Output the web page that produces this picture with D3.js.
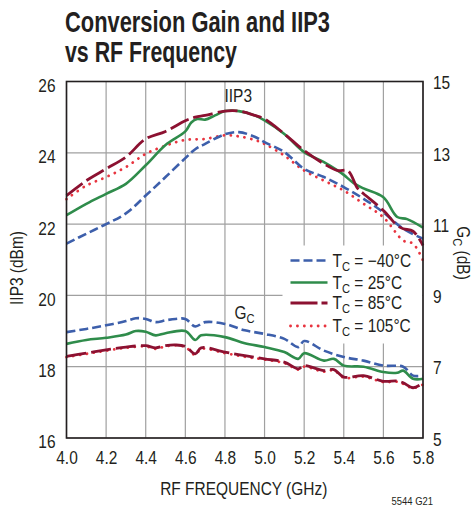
<!DOCTYPE html>
<html>
<head>
<meta charset="utf-8">
<script src="https://cdn.jsdelivr.net/npm/d3@7"></script>
<style>
  body { margin: 0; background: #fff; }
  svg text { font-family: "Liberation Sans", Arial, sans-serif; fill: #231f20; }
  .title { font-size: 30px; font-weight: bold; }
  .tick-label { font-size: 18px; }
  .axis-label { font-size: 18px; }
  .grid line { stroke: #a0a0a0; stroke-width: 1.2; }
</style>
</head>
<body>
<svg width="474" height="507"></svg>
<script>
(function (d3) {
  'use strict';

  const xTicks = [4.0, 4.2, 4.4, 4.6, 4.8, 5.0, 5.2, 5.4, 5.6, 5.8];
  const leftTicks = [16, 18, 20, 22, 24, 26];
  const rightTicks = [5, 7, 9, 11, 13, 15];

  // IIP3 (dBm), [freq GHz, value]
  const iip3Minus40 = [[4.0,21.45],[4.1,21.73],[4.2,22.0],[4.3,22.3],[4.4,22.8],[4.5,23.32],[4.6,23.85],[4.65,24.1],[4.7,24.25],[4.8,24.52],[4.87,24.58],[4.95,24.45],[5.0,24.3],[5.1,24.02],[5.2,23.55],[5.3,23.32],[5.4,23.04],[5.5,22.71],[5.6,22.33],[5.7,21.87],[5.8,21.59]];
  const iip3At25 = [[4.0,22.25],[4.1,22.57],[4.2,22.85],[4.3,23.13],[4.4,23.65],[4.5,24.22],[4.6,24.6],[4.63,24.85],[4.66,24.95],[4.7,24.93],[4.75,25.05],[4.8,25.17],[4.87,25.17],[4.95,25.05],[5.0,24.91],[5.1,24.53],[5.2,24.02],[5.3,23.74],[5.37,23.5],[5.4,23.38],[5.45,23.15],[5.5,23.0],[5.6,22.75],[5.67,22.2],[5.72,22.14],[5.8,21.9]];
  const iip3At85 = [[4.0,22.8],[4.1,23.22],[4.2,23.55],[4.3,23.88],[4.4,24.39],[4.5,24.6],[4.6,24.9],[4.65,25.0],[4.7,25.05],[4.8,25.17],[4.87,25.17],[4.95,25.05],[5.0,24.95],[5.1,24.53],[5.2,24.06],[5.3,23.69],[5.37,23.5],[5.42,23.5],[5.47,23.0],[5.5,22.85],[5.6,22.38],[5.67,21.96],[5.7,21.87],[5.75,21.8],[5.8,21.4]];
  const iip3At105 = [[4.0,22.7],[4.1,23.08],[4.2,23.32],[4.3,23.6],[4.4,23.97],[4.5,24.2],[4.6,24.36],[4.7,24.39],[4.8,24.49],[4.87,24.46],[4.95,24.36],[5.0,24.25],[5.1,23.92],[5.2,23.5],[5.3,23.22],[5.4,22.94],[5.5,22.57],[5.6,22.19],[5.7,21.54],[5.75,21.45],[5.8,20.98]];

  // Conversion gain Gc (dB)
  const gcMinus40 = [[4.0,7.97],[4.1,8.06],[4.2,8.16],[4.3,8.28],[4.35,8.36],[4.4,8.34],[4.45,8.25],[4.5,8.3],[4.55,8.34],[4.6,8.34],[4.65,8.13],[4.7,8.25],[4.8,8.2],[4.9,8.02],[5.0,7.92],[5.1,7.78],[5.17,7.55],[5.2,7.72],[5.3,7.45],[5.4,7.27],[5.5,7.17],[5.6,7.03],[5.7,7.0],[5.75,6.75],[5.8,6.75]];
  const gcAt25 = [[4.0,7.64],[4.1,7.75],[4.2,7.81],[4.3,7.9],[4.35,8.0],[4.4,7.98],[4.45,7.88],[4.5,7.94],[4.6,8.0],[4.65,7.75],[4.68,7.88],[4.8,7.83],[4.9,7.66],[5.0,7.55],[5.1,7.41],[5.17,7.22],[5.2,7.38],[5.3,7.17],[5.35,7.22],[5.4,7.03],[5.5,7.0],[5.6,6.85],[5.67,6.83],[5.7,6.89],[5.75,6.66],[5.8,6.66]];
  const gcAt85 = [[4.0,7.29],[4.1,7.38],[4.2,7.47],[4.3,7.55],[4.4,7.59],[4.45,7.53],[4.5,7.59],[4.55,7.61],[4.6,7.57],[4.65,7.36],[4.68,7.53],[4.8,7.41],[4.9,7.31],[5.0,7.22],[5.1,7.13],[5.17,6.94],[5.2,7.03],[5.3,6.89],[5.35,6.92],[5.4,6.71],[5.5,6.75],[5.6,6.59],[5.67,6.6],[5.7,6.55],[5.75,6.41],[5.8,6.54]];
  const gcAt105 = [[4.0,7.27],[4.1,7.36],[4.2,7.45],[4.3,7.53],[4.4,7.57],[4.45,7.5],[4.5,7.57],[4.55,7.6],[4.6,7.55],[4.65,7.33],[4.68,7.5],[4.8,7.38],[4.9,7.28],[5.0,7.2],[5.1,7.1],[5.17,6.92],[5.2,7.0],[5.3,6.86],[5.35,6.9],[5.4,6.69],[5.5,6.72],[5.6,6.57],[5.67,6.58],[5.7,6.52],[5.75,6.4],[5.8,6.5]];

  const legendLabels = ['\u221240\u00b0C', '25\u00b0C', '85\u00b0C', '105\u00b0C'];

  const styles = [
    { color: '#3d5fab', width: 2.6, dash: '9 4', cap: 'butt' },
    { color: '#2f8c4b', width: 2.6, dash: null, cap: 'butt' },
    { color: '#8c1131', width: 2.8, dash: '20 5', cap: 'butt' },
    { color: '#e8343f', width: 2.8, dash: '0.1 6.8', cap: 'round' }
  ];

  // squeeze text horizontally around its x anchor (condensed face look)
  const narrow = (sel, k, pre = '') => sel.each(function () {
    const t = d3.select(this);
    const x = +t.attr('x') || 0;
    t.attr('transform', `${pre} translate(${x},0) scale(${k},1) translate(${-x},0)`);
  });
  const K = 0.86;

  const svg = d3.select('svg');
  const margin = { top: 81.5, left: 66.5, right: 51, bottom: 69 };
  const width = +svg.attr('width');
  const height = +svg.attr('height');
  const innerWidth = width - margin.left - margin.right;
  const innerHeight = height - margin.top - margin.bottom;

  const xScale = d3.scaleLinear().domain([4.0, 5.8]).range([0, innerWidth]);
  const yLeft = d3.scaleLinear().domain([16, 26]).range([innerHeight, 0]);
  const yRight = d3.scaleLinear().domain([5, 15]).range([innerHeight, 0]);

  // title
  svg.append('text').attr('class', 'title').attr('x', 65).attr('y', 32)
    .attr('textLength', 265).attr('lengthAdjust', 'spacingAndGlyphs')
    .text('Conversion Gain and IIP3');
  svg.append('text').attr('class', 'title').attr('x', 65).attr('y', 62)
    .attr('textLength', 172).attr('lengthAdjust', 'spacingAndGlyphs')
    .text('vs RF Frequency');

  const g = svg.append('g').attr('transform', `translate(${margin.left},${margin.top})`);

  // grid
  const grid = g.append('g').attr('class', 'grid');
  grid.selectAll('.v').data(xTicks).join('line')
    .attr('x1', d => xScale(d)).attr('x2', d => xScale(d))
    .attr('y1', 0).attr('y2', innerHeight);
  grid.selectAll('.h').data(leftTicks).join('line')
    .attr('class', 'h')
    .attr('x1', 0).attr('x2', innerWidth)
    .attr('y1', d => yLeft(d)).attr('y2', d => yLeft(d));

  // legend background
  g.append('rect')
    .attr('x', 216).attr('y', 164).attr('width', innerWidth - 216 - 1).attr('height', 98)
    .attr('fill', '#fff');

  // curves
  const line = yScale => d3.line()
    .x(d => xScale(d[0]))
    .y(d => yScale(d[1]))
    .curve(d3.curveCatmullRom.alpha(0.5));

  const iip3Series = [iip3Minus40, iip3At25, iip3At85, iip3At105];
  const gcSeries = [gcMinus40, gcAt25, gcAt85, gcAt105];

  [3, 0, 1, 2].forEach(i => {
    const s = styles[i];
    [[iip3Series[i], yLeft], [gcSeries[i], yRight]].forEach(([data, ys]) => {
      g.append('path')
        .attr('d', line(ys)(data))
        .attr('fill', 'none')
        .attr('stroke', s.color)
        .attr('stroke-width', s.width)
        .attr('stroke-linecap', s.cap)
        .attr('stroke-dasharray', s.dash);
    });
  });

  // frame
  g.append('rect')
    .attr('width', innerWidth).attr('height', innerHeight)
    .attr('fill', 'none').attr('stroke', '#231f20').attr('stroke-width', 1.6);

  // axes
  const xAxis = d3.axisBottom(xScale).tickValues(xTicks).tickSize(0).tickPadding(13)
    .tickFormat(d3.format('.1f'));
  const xAxisG = g.append('g').attr('transform', `translate(0,${innerHeight})`).call(xAxis);
  xAxisG.select('.domain').remove();
  xAxisG.selectAll('text').attr('class', 'tick-label').attr('fill', null).call(narrow, K);

  const leftAxis = d3.axisLeft(yLeft).tickValues(leftTicks).tickSize(0).tickPadding(11);
  const leftG = g.append('g').call(leftAxis);
  leftG.select('.domain').remove();
  leftG.selectAll('text').attr('class', 'tick-label').attr('fill', null).attr('dy', '0.55em').call(narrow, K);

  const rightAxis = d3.axisRight(yRight).tickValues(rightTicks).tickSize(0).tickPadding(10);
  const rightG = g.append('g').attr('transform', `translate(${innerWidth},0)`).call(rightAxis);
  rightG.select('.domain').remove();
  rightG.selectAll('text').attr('class', 'tick-label').attr('fill', null).attr('dy', '0.4em').call(narrow, K);

  // axis labels
  svg.append('text').attr('class', 'axis-label')
    .attr('x', margin.left + innerWidth / 2 - 1).attr('y', 495)
    .attr('text-anchor', 'middle').text('RF FREQUENCY (GHz)').call(narrow, K);

  svg.append('text').attr('class', 'axis-label')
    .attr('text-anchor', 'middle').text('IIP3 (dBm)')
    .call(narrow, K, 'translate(23,268) rotate(-90)');

  const gcLabel = svg.append('text').attr('class', 'axis-label')
    .attr('text-anchor', 'middle');
  gcLabel.append('tspan').text('G');
  gcLabel.append('tspan').attr('font-size', 13).attr('dy', 4).text('C');
  gcLabel.append('tspan').attr('dy', -4).text(' (dB)');
  gcLabel.call(narrow, K, 'translate(457,253) rotate(90)');

  svg.append('text').attr('x', 433).attr('y', 505).attr('text-anchor', 'end')
    .attr('font-size', 11).text('5544 G21').call(narrow, K);

  // curve labels
  g.append('text').attr('class', 'axis-label').attr('x', 158).attr('y', 21).text('IIP3').call(narrow, K);
  const gcText = g.append('text').attr('class', 'axis-label').attr('x', 168).attr('y', 238);
  gcText.append('tspan').text('G');
  gcText.append('tspan').attr('font-size', 13).attr('dy', 4).text('C');
  gcText.call(narrow, K);

  // legend
  const legendRowY = [179, 201, 221.5, 244.5];
  const legend = g.append('g').selectAll('g').data(legendLabels).join('g')
    .attr('transform', (d, i) => `translate(224,${legendRowY[i]})`);
  legend.append('line')
    .attr('x1', 0).attr('x2', 37).attr('y1', 0).attr('y2', 0)
    .attr('stroke', (d, i) => styles[i].color)
    .attr('stroke-width', (d, i) => styles[i].width)
    .attr('stroke-linecap', (d, i) => styles[i].cap)
    .attr('stroke-dasharray', (d, i) => i === 2 ? '27 4' : styles[i].dash);
  const lt = legend.append('text').attr('class', 'axis-label').attr('x', 42).attr('y', 6);
  lt.append('tspan').text('T');
  lt.append('tspan').attr('font-size', 13).attr('dy', 4).text('C');
  lt.append('tspan').attr('dy', -4).text(d => ' = ' + d);
  lt.call(narrow, K);

}(d3));
</script>
</body>
</html>
